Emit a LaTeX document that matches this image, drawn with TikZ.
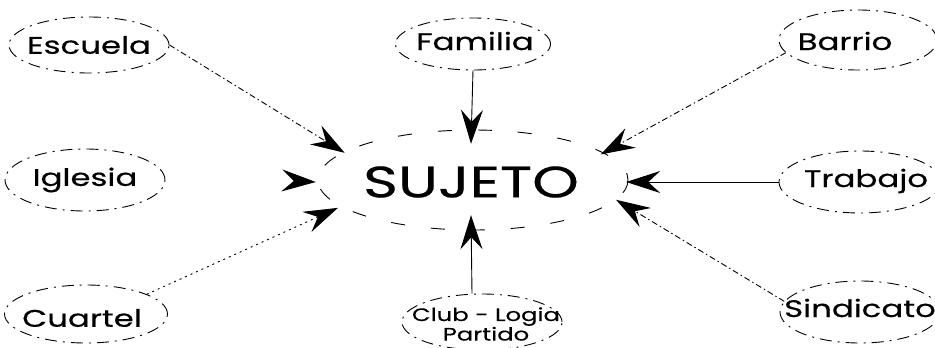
\documentclass[tikz,border=0pt]{standalone}
\usepackage{fontspec}
\setmainfont{Poppins}[FakeStretch=1.35,FakeBold=0.4]
\usetikzlibrary{shapes.geometric,arrows.meta}
\begin{document}
\begin{tikzpicture}[x=1pt,y=-1pt,
  place/.style={ellipse,draw,line width=0.9pt,
    dash pattern=on 12pt off 6pt on 2pt off 6pt,inner sep=0pt},
  lbl/.style={inner sep=0pt,font=\fontsize{24}{27}\selectfont},
  center/.style={ellipse,inner sep=0pt,font=\fontsize{44}{48}\selectfont},
  rim/.style={draw,line width=0.9pt,dash pattern=on 14pt off 26pt},
  conn/.style={line width=0.9pt,
    -{Stealth[length=34pt,width=22pt,inset=12pt]}},
  dashline/.style={dash pattern=on 6pt off 3pt on 1.5pt off 3pt},
  dotline/.style={dash pattern=on 2pt off 4pt}]
\useasboundingbox (0,0) rectangle (935,348);
\node[center,minimum width=310,minimum height=100] (S) at (471,182) {SUJETO};
\draw[rim] (473,180) ellipse [x radius=155,y radius=50];
% ellipses
\node[place,minimum width=160,minimum height=56] (esc) at (89,45) {};
\node[place,minimum width=155,minimum height=52] (fam) at (473,44) {};
\node[place,minimum width=158,minimum height=60] (bar) at (858,40) {};
\node[place,minimum width=160,minimum height=62] (igl) at (85,180) {};
\node[place,minimum width=162,minimum height=62] (tra) at (860,182) {};
\node[place,minimum width=163,minimum height=58] (cua) at (86,314) {};
\node[place,minimum width=160,minimum height=56] (club) at (482,322) {};
\node[place,minimum width=160,minimum height=62] (sin) at (860,312) {};
% labels
\node[lbl] (escT) at (esc) {Escuela};
\node[lbl] (famT) at (475,41) {Familia};
\node[lbl] (barT) at (845,41) {Barrio};
\node[lbl] (iglT) at (85,180) {Iglesia};
\node[lbl] (traT) at (866,181) {Trabajo};
\node[lbl] (cuaT) at (82,318) {Cuartel};
\node[lbl,align=center,font=\fontsize{18}{17}\selectfont] (clubT) at (486,324) {Club - Logia\\Partido};
\node[lbl] (sinT) at (860,308) {Sindicato};
% connectors
\coordinate (igltail) at (294,181);
\draw[conn,dashline] (esc.east) -- (S.167);
\draw[conn] (fam.south) -- ([yshift=-12pt]S.north);
\draw[conn,dashline] (bar.190) -- (S.12);
\draw[conn] (igltail) -- (S.180);
\draw[conn] (tra.west) -- (S.0);
\draw[conn,dotline] (cua.18) -- (S.191);
\draw[conn] ([xshift=-10pt]club.north) -- ([yshift=17pt]S.south);
\draw[conn,dashline] (sin.172) -- (S.353);
\end{tikzpicture}
\end{document}
